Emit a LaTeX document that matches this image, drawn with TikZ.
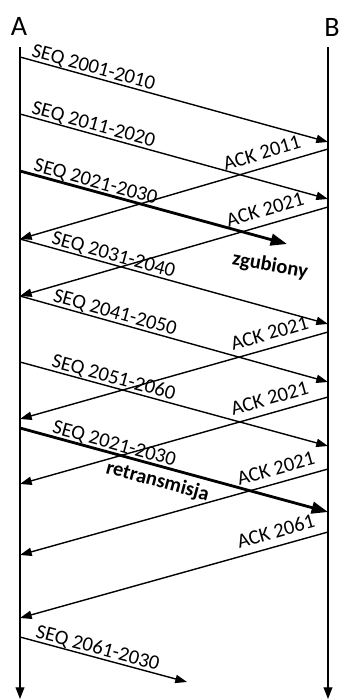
\documentclass[tikz,border=0pt]{standalone}
\usepackage{fontspec}
\setmainfont{Carlito}
\usetikzlibrary{arrows.meta}

\tikzset{
  lifeline/.style={line width=1.2pt, -{Triangle[length=10pt,width=7.5pt]}},
  msg/.style={line width=1.2pt, -{Triangle[length=10pt,width=7pt]}},
  msgbold/.style={line width=2.4pt, -{Triangle[length=14pt,width=10pt]}},
  host/.style={inner sep=0pt, font=\fontsize{24pt}{28pt}\selectfont},
  seqlbl/.style={sloped, anchor=base west, inner sep=0pt, yshift=3pt,
    font=\fontsize{17.5pt}{20pt}\selectfont},
  acklbl/.style={sloped, anchor=base east, inner sep=0pt, yshift=7pt,
    font=\fontsize{17.5pt}{20pt}\selectfont},
  note/.style={inner sep=0pt, font=\fontsize{17.5pt}{20pt}\selectfont\bfseries},
}

\begin{document}
\begin{tikzpicture}[x=0.03cm, y=-0.03cm]
\newcommand\hostA{20}
\newcommand\hostB{328}
\useasboundingbox (0,0) rectangle (340,700);

\node (A) at (19,26) [host] {A};
\node (B) at (332,27) [host] {B};

% lifelines
\coordinate (Atop) at (\hostA,47);
\coordinate (Aend) at (\hostA,699);
\coordinate (Btop) at (\hostB,47);
\coordinate (Bend) at (\hostB,699);
\draw[lifeline] (Atop) -- (Aend);
\draw[lifeline] (Btop) -- (Bend);

% send/receive points on both sides
\foreach \n/\y in {1/57, 2/114, 3/171, 4/239, 5/296, 6/362, 7/419, 8/428, 9/484, 10/555, 11/618, 12/637}
  \coordinate (a\n) at (\hostA,\y);
\foreach \n/\y in {1/142, 2/149, 3/199, 4/207, 5/324, 6/332, 7/382, 8/397, 9/446, 10/469, 11/512, 12/532}
  \coordinate (b\n) at (\hostB,\y);
\coordinate (lost) at (287,244);
\coordinate (last) at (187,682);

\draw[msg] (a1) -- node[seqlbl, pos=.03] (s1) {SEQ 2001-2010} (b1);
\draw[msg] (a2) -- node[seqlbl, pos=.03] (s2) {SEQ 2011-2020} (b3);
\draw[msg] (b2) -- node[acklbl, pos=.075] (k1) {ACK 2011} (a4);
\draw[msgbold] (a3) -- node[seqlbl, pos=.04] (s3) {SEQ 2021-2030} (lost);
\node (zgub) at (270,266) [note, rotate=-10] {zgubiony};
\draw[msg] (b4) -- node[acklbl, pos=.065] (k2) {ACK 2021} (a5);
\draw[msg] (a4) -- node[seqlbl, pos=.095] (s4) {SEQ 2031-2040} (b5);
\draw[msg] (a5) -- node[seqlbl, pos=.1] (s5) {SEQ 2041-2050} (b7);
\draw[msg] (b6) -- node[acklbl, pos=.05] (k3) {ACK 2021} (a7);
\draw[msg] (a6) -- node[seqlbl, pos=.095] (s6) {SEQ 2051-2060} (b9);
\draw[msg] (b8) -- node[acklbl, pos=.05] (k4) {ACK 2021} (a9);
\draw[msgbold] (a8) -- node[seqlbl, pos=.095] (s7) {SEQ 2021-2030}
  node[note, sloped, anchor=base, pos=.46, yshift=-18pt] (retr) {retransmisja} (b11);
\draw[msg] (b10) -- node[acklbl, pos=.03] (k5) {ACK 2021} (a10);
\draw[msg] (b12) -- node[acklbl, pos=.03] (k6) {ACK 2061} (a11);
\draw[msg] (a12) -- node[seqlbl, pos=.08] (s8) {SEQ 2061-2030} (last);
\end{tikzpicture}
\end{document}
